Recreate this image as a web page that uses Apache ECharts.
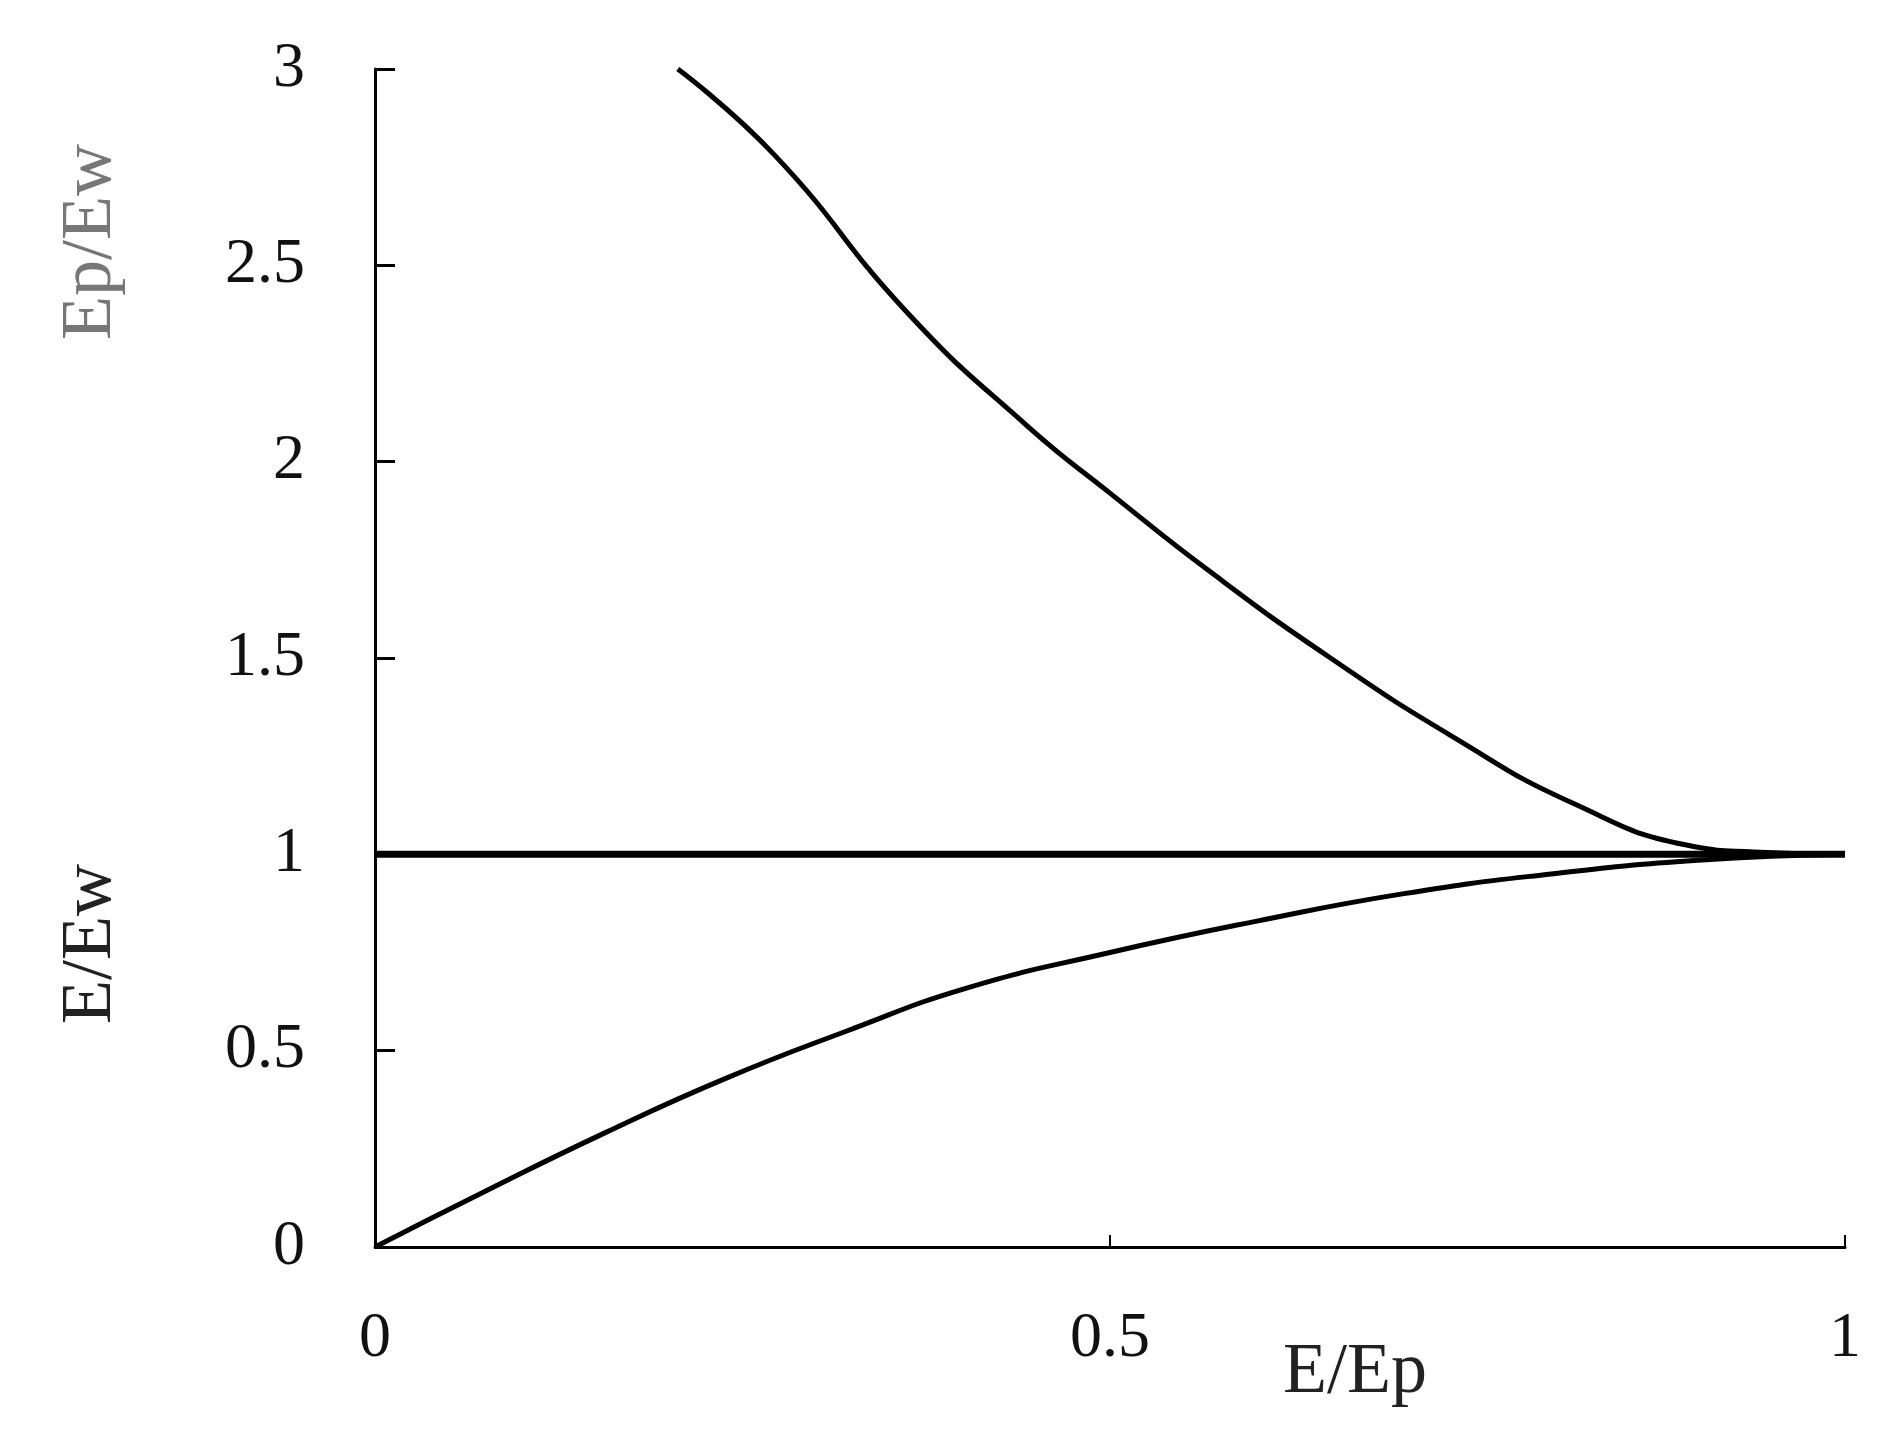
<!DOCTYPE html><html><head><meta charset="utf-8"><script src="https://cdn.jsdelivr.net/npm/echarts@6/dist/echarts.min.js"></script>
<style>html,body{margin:0;background:#fff}#c{width:1887px;height:1451px}</style></head><body><div id="c"></div><script>
const xTicks=[0,0.5,1];
const yTicks=[0,0.5,1,1.5,2,2.5,3];
const upperX=[0.206,0.272,0.362,0.444,0.5,0.568,0.65,0.733,0.815,0.897,0.938,1];
const upperY=[3.0,2.78,2.38,2.09,1.92,1.72,1.5,1.3,1.13,1.02,1.006,1];
const lowerX=[0,0.074,0.156,0.239,0.321,0.403,0.5,0.6,0.7,0.8,0.9,1];
const lowerY=[0,0.14,0.29,0.43,0.55,0.66,0.75,0.83,0.9,0.95,0.985,1];
const flatX=[0,1], flatY=[1,1];
const z=(a,b)=>a.map((v,i)=>[v,b[i]]);
const font='"Liberation Serif","DejaVu Serif",serif';
const ch=echarts.init(document.getElementById('c'));
ch.setOption({animation:false,
grid:{left:375,top:69,right:42,bottom:204},
xAxis:{type:'value',min:0,max:1,interval:0.5,
 axisLine:{lineStyle:{color:'#000',width:3}},axisTick:{inside:true,length:12,lineStyle:{color:'#000',width:2}},
 splitLine:{show:false},axisLabel:{margin:60,color:'#111',fontFamily:font,fontSize:64,formatter:v=>String(v)}},
yAxis:{type:'value',min:0,max:3,interval:0.5,
 axisLine:{show:true,lineStyle:{color:'#000',width:3}},axisTick:{show:true,inside:true,length:20,lineStyle:{color:'#000',width:3}},
 splitLine:{show:false},axisLabel:{margin:70,color:'#111',fontFamily:font,fontSize:64,formatter:v=>String(v)}},
graphic:[
 {type:'text',x:91,y:242,rotation:Math.PI/2,style:{text:'Ep/Ew',fill:'#777',font:'72px '+font,align:'center',verticalAlign:'middle'}},
 {type:'text',x:91,y:944,rotation:Math.PI/2,style:{text:'E/Ew',fill:'#222',font:'72px '+font,align:'center',verticalAlign:'middle'}},
 {type:'text',x:1355,y:1373,style:{text:'E/Ep',fill:'#222',font:'72px '+font,align:'center',verticalAlign:'middle'}}
],
series:[
 {type:'line',data:z(upperX,upperY),smooth:true,symbol:'none',lineStyle:{color:'#000',width:5}},
 {type:'line',data:z(lowerX,lowerY),smooth:true,symbol:'none',lineStyle:{color:'#000',width:5}},
 {type:'line',data:z(flatX,flatY),symbol:'none',lineStyle:{color:'#000',width:7}}
]});
</script></body></html>
